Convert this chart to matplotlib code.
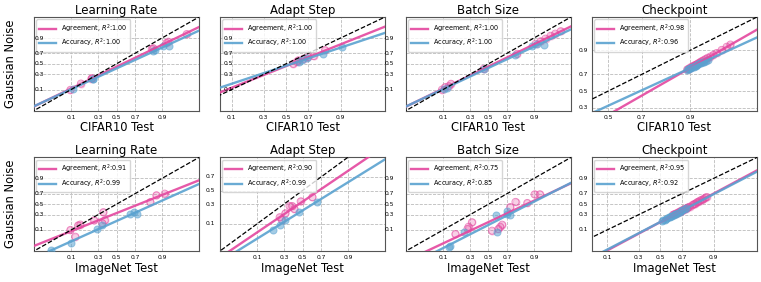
import math
import numpy as np
import matplotlib
matplotlib.use('Agg')
import matplotlib.pyplot as plt
import matplotlib.transforms as mtransforms

## colours
pink = '#e4479f'
blue = '#5aa2d0'

titles = ['Learning Rate', 'Adapt Step', 'Batch Size', 'Checkpoint']
row_xlabels = ['CIFAR10 Test', 'ImageNet Test']
ylabel = 'Gaussian Noise'
tick_vals = [0.1, 0.3, 0.5, 0.7, 0.9]

# R^2 shown in the legends
agr_r2 = [[1.00, 1.00, 1.00, 0.98], [0.91, 0.90, 0.75, 0.95]]
acc_r2 = [[1.00, 1.00, 1.00, 0.96], [0.99, 0.99, 0.85, 0.92]]

## CIFAR10 row
cifar_lr_agr_x = [0.097, 0.158, 0.24, 0.245, 0.84, 0.85, 0.92, 0.928, 0.976]
cifar_lr_agr_y = [0.098, 0.163, 0.23, 0.235, 0.77, 0.78, 0.85, 0.864, 0.93]
cifar_lr_acc_x = [0.109, 0.25, 0.255, 0.85, 0.86, 0.907, 0.932]
cifar_lr_acc_y = [0.106, 0.22, 0.226, 0.74, 0.75, 0.81, 0.81]

cifar_as_agr_x = [0.567, 0.60, 0.614, 0.66, 0.70, 0.742, 0.82]
cifar_as_agr_y = [0.50, 0.54, 0.567, 0.60, 0.633, 0.65, 0.75]
cifar_as_acc_x = [0.62, 0.645, 0.69, 0.81, 0.907]
cifar_as_acc_y = [0.54, 0.567, 0.614, 0.69, 0.80]

cifar_bs_agr_x = [0.095, 0.111, 0.131, 0.145, 0.446, 0.79, 0.908, 0.929, 0.946, 0.96, 0.97, 0.979]
cifar_bs_agr_y = [0.10, 0.123, 0.133, 0.16, 0.40, 0.69, 0.84, 0.868, 0.894, 0.918, 0.933, 0.947]
cifar_bs_acc_x = [0.103, 0.12, 0.446, 0.776, 0.89, 0.915, 0.94]
cifar_bs_acc_y = [0.105, 0.113, 0.39, 0.674, 0.81, 0.84, 0.82]

cifar_ck_agr_x = [0.892, 0.897, 0.901, 0.905, 0.908, 0.912, 0.915, 0.918, 0.922, 0.925,
                  0.928, 0.932, 0.936, 0.940, 0.945, 0.950, 0.955, 0.962, 0.968, 0.972]
cifar_ck_agr_y = [0.752, 0.760, 0.772, 0.775, 0.786, 0.790, 0.796, 0.803, 0.812, 0.818,
                  0.826, 0.834, 0.843, 0.852, 0.861, 0.872, 0.884, 0.902, 0.918, 0.928]
cifar_ck_acc_x = [0.890, 0.894, 0.897, 0.900, 0.903, 0.906, 0.909, 0.912, 0.915,
                  0.918, 0.921, 0.924, 0.927, 0.930, 0.933, 0.936, 0.940]
cifar_ck_acc_y = [0.748, 0.757, 0.759, 0.766, 0.769, 0.776, 0.778, 0.786, 0.788,
                  0.795, 0.799, 0.807, 0.810, 0.817, 0.821, 0.829, 0.834]

## ImageNet row
inet_lr_agr_x = [0.097, 0.123, 0.14, 0.154, 0.264, 0.345, 0.355, 0.37, 0.83, 0.87, 0.913]
inet_lr_agr_y = [0.10, 0.053, 0.145, 0.156, 0.209, 0.171, 0.345, 0.21, 0.54, 0.67, 0.70]
inet_lr_acc_x = [0.033, 0.10, 0.294, 0.345, 0.65, 0.69, 0.72]
inet_lr_acc_y = [0.011, 0.027, 0.109, 0.145, 0.316, 0.34, 0.305]

inet_as_agr_x = [0.26, 0.28, 0.315, 0.357, 0.386, 0.41, 0.48, 0.61]
inet_as_agr_y = [0.152, 0.129, 0.19, 0.275, 0.275, 0.24, 0.338, 0.40]
inet_as_acc_x = [0.206, 0.26, 0.315, 0.46, 0.66]
inet_as_acc_y = [0.066, 0.095, 0.13, 0.20, 0.33]

inet_bs_agr_x = [0.176, 0.277, 0.287, 0.32, 0.54, 0.61, 0.63, 0.65, 0.73, 0.777, 0.863, 0.903, 0.926]
inet_bs_agr_y = [0.069, 0.109, 0.131, 0.184, 0.094, 0.109, 0.131, 0.154, 0.443, 0.545, 0.524, 0.687, 0.687]
inet_bs_acc_x = [0.131, 0.14, 0.242, 0.587, 0.60, 0.695, 0.70, 0.73]
inet_bs_acc_y = [0.017, 0.019, 0.081, 0.288, 0.081, 0.363, 0.316, 0.288]

inet_ck_agr_x = [0.62, 0.63, 0.645, 0.66, 0.67, 0.68, 0.69, 0.70, 0.71, 0.72, 0.73, 0.74,
                 0.75, 0.76, 0.78, 0.79, 0.80, 0.81, 0.82, 0.83, 0.84, 0.85, 0.86, 0.868]
inet_ck_agr_y = [0.30, 0.305, 0.32, 0.33, 0.345, 0.35, 0.37, 0.375, 0.39, 0.40, 0.415, 0.425,
                 0.44, 0.45, 0.48, 0.50, 0.51, 0.535, 0.55, 0.57, 0.585, 0.60, 0.625, 0.64]
inet_ck_acc_x = [0.52, 0.53, 0.545, 0.55, 0.565, 0.58, 0.59, 0.60, 0.615, 0.63, 0.64,
                 0.65, 0.665, 0.68, 0.69, 0.70, 0.72, 0.735]
inet_ck_acc_y = [0.20, 0.215, 0.22, 0.235, 0.24, 0.255, 0.26, 0.275, 0.28, 0.30, 0.31,
                 0.32, 0.335, 0.35, 0.36, 0.38, 0.40, 0.42]

panels = [
    [(cifar_lr_agr_x, cifar_lr_agr_y, cifar_lr_acc_x, cifar_lr_acc_y),
     (cifar_as_agr_x, cifar_as_agr_y, cifar_as_acc_x, cifar_as_acc_y),
     (cifar_bs_agr_x, cifar_bs_agr_y, cifar_bs_acc_x, cifar_bs_acc_y),
     (cifar_ck_agr_x, cifar_ck_agr_y, cifar_ck_acc_x, cifar_ck_acc_y)],
    [(inet_lr_agr_x, inet_lr_agr_y, inet_lr_acc_x, inet_lr_acc_y),
     (inet_as_agr_x, inet_as_agr_y, inet_as_acc_x, inet_as_acc_y),
     (inet_bs_agr_x, inet_bs_agr_y, inet_bs_acc_x, inet_bs_acc_y),
     (inet_ck_agr_x, inet_ck_agr_y, inet_ck_acc_x, inet_ck_acc_y)],
]

# axis ranges (accuracy units)
xlims = [[(0.01, 0.99), (0.06, 0.99), (0.01, 0.99), (0.40, 0.99)],
         [(0.01, 0.99), (0.01, 0.99), (0.01, 0.99), (0.05, 0.99)]]
ylims = [[(0.01, 0.99), (0.01, 0.99), (0.01, 0.99), (0.27, 0.99)],
         [(0.01, 0.99), (0.01, 0.899), (0.01, 0.99), (0.01, 0.99)]]
# where the y tick labels sit relative to the left spine (points)
ypads = [[-7.2, -9.4, 8.6, 3.0], [-7.2, 3.6, 8.6, 3.0]]


_erf = np.vectorize(math.erf, otypes=[float])


def ncdf(x):
    x = np.asarray(x, float)
    return 0.5 * (1.0 + _erf(x / math.sqrt(2.0)))


def probit(p):
    p = np.clip(np.asarray(p, float), 1e-7, 1 - 1e-7)
    x = np.zeros_like(p)
    for _ in range(60):
        pdf = np.exp(-0.5 * x**2) / math.sqrt(2 * math.pi)
        x = x - (ncdf(x) - p) / pdf
    return x


fig, axes = plt.subplots(2, 4, figsize=(7.61, 2.82), dpi=100)
fig.subplots_adjust(left=34/761, right=757/761, top=1-17/282, bottom=1-251/282,
                    wspace=0.127, hspace=0.5)

for r in range(2):
    for c in range(4):
        ax = axes[r, c]
        ax_x, ay, cx, cy = panels[r][c]
        ax.set_xscale('function', functions=(probit, ncdf))
        ax.set_yscale('function', functions=(probit, ncdf))

        ax.scatter(ax_x, ay, s=26, facecolor=pink, edgecolor=pink, alpha=0.25,
                   linewidths=0.8, zorder=3)
        ax.scatter(ax_x, ay, s=26, facecolor='none', edgecolor=pink, alpha=0.6,
                   linewidths=0.7, zorder=3)
        ax.scatter(cx, cy, s=26, color=blue, alpha=0.55, linewidths=0.7,
                   edgecolor=blue, zorder=3)

        xs = np.linspace(probit(0.003), probit(0.997), 100)
        b, a = np.polyfit(probit(ax_x), probit(ay), 1)
        ax.plot(ncdf(xs), ncdf(b * xs + a), color=pink, lw=1.7, alpha=0.9,
                label='Agreement, $R^2$:%.2f' % agr_r2[r][c], zorder=4)
        b, a = np.polyfit(probit(cx), probit(cy), 1)
        ax.plot(ncdf(xs), ncdf(b * xs + a), color=blue, lw=1.7, alpha=0.9,
                label='Accuracy, $R^2$:%.2f' % acc_r2[r][c], zorder=4)
        ax.plot(ncdf(xs), ncdf(xs), 'k--', lw=0.9, zorder=5)

        ax.set_xticks(tick_vals)
        ax.set_yticks(tick_vals)
        ax.set_xticklabels([str(t) for t in tick_vals])
        ax.minorticks_off()
        # limits after the ticks, otherwise set_*ticks widens the view
        ax.set_xlim(*xlims[r][c])
        ax.set_ylim(*ylims[r][c])
        ax.tick_params(labelsize=4.3, length=0)
        ax.tick_params(axis='x', pad=3)
        ax.tick_params(axis='y', labelleft=False)
        ax.grid(color='#bbbbbb', linestyle='--', lw=0.6)
        for s in ax.spines.values():
            s.set_color('#555555')
            s.set_linewidth(0.8)

        # y tick labels as texts so they stay readable over the legend
        lab_tr = mtransforms.offset_copy(ax.get_yaxis_transform(), fig=fig,
                                         x=-ypads[r][c], units='points')
        y0, y1 = ylims[r][c]
        for t in tick_vals:
            if y0 <= t <= y1:
                ax.text(0, t, str(t), transform=lab_tr, ha='right', va='center',
                        fontsize=4.3, zorder=7, clip_on=False)

        ax.set_title(titles[c], fontsize=8.5, pad=2)
        ax.set_xlabel(row_xlabels[r], fontsize=8.3, labelpad=1)
        if c == 0:
            ax.set_ylabel(ylabel, fontsize=8.3)
            ax.yaxis.set_label_coords(-0.1, 0.5)
        ax.legend(loc='upper left', fontsize=4.7, handlelength=2.6,
                  borderpad=0.45, labelspacing=0.35, borderaxespad=0.35,
                  handletextpad=0.7, framealpha=0.8, edgecolor='#cccccc')

plt.savefig('out.png', dpi=100)
plt.close('all')
